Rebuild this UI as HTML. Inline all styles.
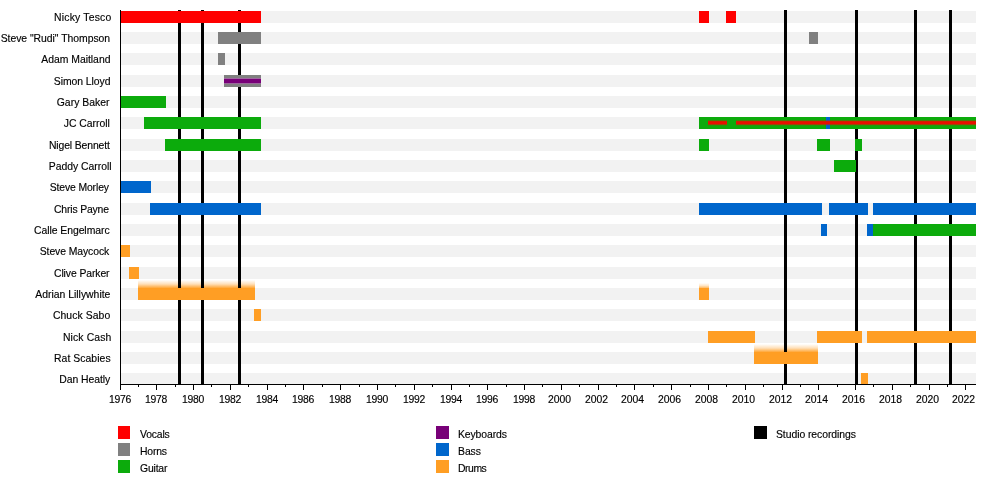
<!DOCTYPE html>
<html><head><meta charset="utf-8"><title>Timeline</title>
<style>
html,body{margin:0;padding:0;background:#fff}
#c{position:relative;width:1000px;height:484px;overflow:hidden;background:#fff;font-family:"Liberation Sans",sans-serif;font-size:10.4px;color:#000;line-height:12px}
#c div{position:absolute}
.bd{left:121px;width:855px;height:12px;background:#f2f2f2}
.b{height:12px}
.s{height:4px}
.ln{top:10px;width:3px;height:374px;background:#000}
.lb,.tl,.lt{will-change:transform;-webkit-text-stroke:0.15px #000}
.lb{left:0;width:111px;text-align:right;white-space:nowrap;height:12px}
.tk{top:384px;width:1px;background:#000}
.tl{top:393.5px;white-space:nowrap;height:12px}
.lg{width:13px;height:13px}
.lt{white-space:nowrap;height:12px}
</style></head><body><div id="c">

<div class="bd" style="top:11px;height:12px"></div>
<div class="bd" style="top:32px;height:12px"></div>
<div class="bd" style="top:53px;height:12px"></div>
<div class="bd" style="top:75px;height:12px"></div>
<div class="bd" style="top:96px;height:12px"></div>
<div class="bd" style="top:117px;height:12px"></div>
<div class="bd" style="top:139px;height:12px"></div>
<div class="bd" style="top:160px;height:12px"></div>
<div class="bd" style="top:181px;height:12px"></div>
<div class="bd" style="top:203px;height:12px"></div>
<div class="bd" style="top:224px;height:12px"></div>
<div class="bd" style="top:245px;height:12px"></div>
<div class="bd" style="top:267px;height:12px"></div>
<div class="bd" style="top:288px;height:12px"></div>
<div class="bd" style="top:309px;height:12px"></div>
<div class="bd" style="top:331px;height:12px"></div>
<div class="bd" style="top:352px;height:12px"></div>
<div class="bd" style="top:373px;height:11px"></div>
<div style="left:138px;width:117px;top:280px;height:8px;background:linear-gradient(to bottom,rgba(255,158,36,0) 0%,rgba(255,158,36,0.315) 50%,rgba(255,158,36,0.9) 100%)"></div>
<div style="left:754px;width:64px;top:344px;height:8px;background:linear-gradient(to bottom,rgba(255,158,36,0) 0%,rgba(255,158,36,0.315) 50%,rgba(255,158,36,0.9) 100%)"></div>
<div style="left:699px;width:10px;top:283px;height:5px;background:linear-gradient(to bottom,rgba(255,158,36,0) 0%,rgba(255,158,36,0.24499999999999997) 50%,rgba(255,158,36,0.7) 100%)"></div>
<div class="ln" style="left:178px"></div>
<div class="ln" style="left:201px"></div>
<div class="ln" style="left:238px"></div>
<div class="ln" style="left:784px"></div>
<div class="ln" style="left:855px"></div>
<div class="ln" style="left:914px"></div>
<div class="ln" style="left:949px"></div>
<div class="b" style="top:11px;left:120.5px;width:140.5px;height:12px;background:#ff0000"></div>
<div class="b" style="top:11px;left:699px;width:10px;height:12px;background:#ff0000"></div>
<div class="b" style="top:11px;left:726px;width:10px;height:12px;background:#ff0000"></div>
<div class="b" style="top:32px;left:218px;width:43px;height:12px;background:#808080"></div>
<div class="b" style="top:32px;left:809px;width:9px;height:12px;background:#808080"></div>
<div class="b" style="top:53px;left:218px;width:7px;height:12px;background:#808080"></div>
<div class="b" style="top:75px;left:224px;width:37px;height:12px;background:#808080"></div>
<div style="top:78px;height:6px;left:224px;width:37px;background:linear-gradient(to bottom,rgba(160,105,160,1) 0px,rgba(160,105,160,1) 1px,rgba(120,0,120,1) 1px,rgba(120,0,120,1) 2px,rgba(120,0,120,1) 2px,rgba(120,0,120,1) 3px,rgba(120,0,120,1) 3px,rgba(120,0,120,1) 4px,rgba(120,0,120,1) 4px,rgba(120,0,120,1) 5px,rgba(155,105,155,1) 5px,rgba(155,105,155,1) 6px)"></div>
<div class="b" style="top:96px;left:120.5px;width:45.5px;height:12px;background:#0cab0c"></div>
<div class="b" style="top:117px;left:144px;width:117px;height:12px;background:#0cab0c"></div>
<div class="b" style="top:117px;left:699px;width:277px;height:12px;background:#0cab0c"></div>
<div class="b" style="top:117px;left:826px;width:4px;height:12px;background:#0066cc"></div>
<div style="top:120px;height:6px;left:708px;width:18.5px;background:linear-gradient(to bottom,rgba(232,16,0,0.3) 0px,rgba(232,16,0,0.3) 1px,rgba(232,16,0,0.9) 1px,rgba(232,16,0,0.9) 2px,rgba(232,16,0,1) 2px,rgba(232,16,0,1) 3px,rgba(232,16,0,1) 3px,rgba(232,16,0,1) 4px,rgba(232,16,0,0.65) 4px,rgba(232,16,0,0.65) 5px,rgba(232,16,0,0.12) 5px,rgba(232,16,0,0.12) 6px)"></div>
<div style="top:120px;height:6px;left:735.5px;width:240.5px;background:linear-gradient(to bottom,rgba(232,16,0,0.3) 0px,rgba(232,16,0,0.3) 1px,rgba(232,16,0,0.9) 1px,rgba(232,16,0,0.9) 2px,rgba(232,16,0,1) 2px,rgba(232,16,0,1) 3px,rgba(232,16,0,1) 3px,rgba(232,16,0,1) 4px,rgba(232,16,0,0.65) 4px,rgba(232,16,0,0.65) 5px,rgba(232,16,0,0.12) 5px,rgba(232,16,0,0.12) 6px)"></div>
<div class="b" style="top:139px;left:165px;width:96px;height:12px;background:#0cab0c"></div>
<div class="b" style="top:139px;left:699px;width:10px;height:12px;background:#0cab0c"></div>
<div class="b" style="top:139px;left:817px;width:13px;height:12px;background:#0cab0c"></div>
<div class="b" style="top:139px;left:855px;width:7px;height:12px;background:#0cab0c"></div>
<div class="b" style="top:160px;left:834px;width:22px;height:12px;background:#0cab0c"></div>
<div class="b" style="top:181px;left:120.5px;width:30.5px;height:12px;background:#0066cc"></div>
<div class="b" style="top:203px;left:150px;width:111px;height:12px;background:#0066cc"></div>
<div class="b" style="top:203px;left:699px;width:123px;height:12px;background:#0066cc"></div>
<div class="b" style="top:203px;left:829.3px;width:38.7px;height:12px;background:#0066cc"></div>
<div class="b" style="top:203px;left:873px;width:103px;height:12px;background:#0066cc"></div>
<div class="b" style="top:224px;left:821px;width:6.3px;height:12px;background:#0066cc"></div>
<div class="b" style="top:224px;left:867px;width:6px;height:12px;background:#0066cc"></div>
<div class="b" style="top:224px;left:873px;width:103px;height:12px;background:#0cab0c"></div>
<div class="b" style="top:245px;left:120.5px;width:9.5px;height:12px;background:#ff9e24"></div>
<div class="b" style="top:267px;left:129px;width:10px;height:12px;background:#ff9e24"></div>
<div class="b" style="top:288px;left:138px;width:117px;height:12px;background:#ff9e24"></div>
<div class="b" style="top:288px;left:699px;width:10px;height:12px;background:#ff9e24"></div>
<div class="b" style="top:309px;left:254px;width:7px;height:12px;background:#ff9e24"></div>
<div class="b" style="top:331px;left:708px;width:46.7px;height:12px;background:#ff9e24"></div>
<div class="b" style="top:331px;left:817.3px;width:44.7px;height:12px;background:#ff9e24"></div>
<div class="b" style="top:331px;left:867px;width:109px;height:12px;background:#ff9e24"></div>
<div class="b" style="top:352px;left:754px;width:64px;height:12px;background:#ff9e24"></div>
<div class="b" style="top:373px;left:861px;width:7px;height:11px;background:#ff9e24"></div>
<div style="left:120px;top:10px;width:1px;height:374px;background:#000"></div>
<div style="left:120px;top:383.5px;width:856px;height:1px;background:#000"></div>
<div class="tk" style="left:120px;height:6px"></div>
<div class="tl" style="left:108.50px;letter-spacing:-0.25px">1976</div>
<div class="tk" style="left:138px;height:3px"></div>
<div class="tk" style="left:156px;height:6px"></div>
<div class="tl" style="left:144.50px;letter-spacing:-0.25px">1978</div>
<div class="tk" style="left:175px;height:3px"></div>
<div class="tk" style="left:193px;height:6px"></div>
<div class="tl" style="left:181.50px;letter-spacing:-0.25px">1980</div>
<div class="tk" style="left:211px;height:3px"></div>
<div class="tk" style="left:230px;height:6px"></div>
<div class="tl" style="left:218.50px;letter-spacing:-0.25px">1982</div>
<div class="tk" style="left:248px;height:3px"></div>
<div class="tk" style="left:267px;height:6px"></div>
<div class="tl" style="left:255.50px;letter-spacing:-0.25px">1984</div>
<div class="tk" style="left:285px;height:3px"></div>
<div class="tk" style="left:303px;height:6px"></div>
<div class="tl" style="left:291.50px;letter-spacing:-0.25px">1986</div>
<div class="tk" style="left:322px;height:3px"></div>
<div class="tk" style="left:340px;height:6px"></div>
<div class="tl" style="left:328.50px;letter-spacing:-0.25px">1988</div>
<div class="tk" style="left:359px;height:3px"></div>
<div class="tk" style="left:377px;height:6px"></div>
<div class="tl" style="left:365.50px;letter-spacing:-0.25px">1990</div>
<div class="tk" style="left:395px;height:3px"></div>
<div class="tk" style="left:414px;height:6px"></div>
<div class="tl" style="left:402.50px;letter-spacing:-0.25px">1992</div>
<div class="tk" style="left:432px;height:3px"></div>
<div class="tk" style="left:451px;height:6px"></div>
<div class="tl" style="left:439.50px;letter-spacing:-0.25px">1994</div>
<div class="tk" style="left:469px;height:3px"></div>
<div class="tk" style="left:487px;height:6px"></div>
<div class="tl" style="left:475.50px;letter-spacing:-0.25px">1996</div>
<div class="tk" style="left:506px;height:3px"></div>
<div class="tk" style="left:524px;height:6px"></div>
<div class="tl" style="left:512.50px;letter-spacing:-0.25px">1998</div>
<div class="tk" style="left:542px;height:3px"></div>
<div class="tk" style="left:561px;height:6px"></div>
<div class="tl" style="left:548.00px;letter-spacing:0">2000</div>
<div class="tk" style="left:579px;height:3px"></div>
<div class="tk" style="left:598px;height:6px"></div>
<div class="tl" style="left:585.00px;letter-spacing:0">2002</div>
<div class="tk" style="left:616px;height:3px"></div>
<div class="tk" style="left:634px;height:6px"></div>
<div class="tl" style="left:621.00px;letter-spacing:0">2004</div>
<div class="tk" style="left:653px;height:3px"></div>
<div class="tk" style="left:671px;height:6px"></div>
<div class="tl" style="left:658.00px;letter-spacing:0">2006</div>
<div class="tk" style="left:690px;height:3px"></div>
<div class="tk" style="left:708px;height:6px"></div>
<div class="tl" style="left:695.00px;letter-spacing:0">2008</div>
<div class="tk" style="left:726px;height:3px"></div>
<div class="tk" style="left:745px;height:6px"></div>
<div class="tl" style="left:732.00px;letter-spacing:0">2010</div>
<div class="tk" style="left:763px;height:3px"></div>
<div class="tk" style="left:782px;height:6px"></div>
<div class="tl" style="left:769.00px;letter-spacing:0">2012</div>
<div class="tk" style="left:800px;height:3px"></div>
<div class="tk" style="left:818px;height:6px"></div>
<div class="tl" style="left:805.00px;letter-spacing:0">2014</div>
<div class="tk" style="left:837px;height:3px"></div>
<div class="tk" style="left:855px;height:6px"></div>
<div class="tl" style="left:842.00px;letter-spacing:0">2016</div>
<div class="tk" style="left:873px;height:3px"></div>
<div class="tk" style="left:892px;height:6px"></div>
<div class="tl" style="left:879.00px;letter-spacing:0">2018</div>
<div class="tk" style="left:910px;height:3px"></div>
<div class="tk" style="left:929px;height:6px"></div>
<div class="tl" style="left:916.00px;letter-spacing:0">2020</div>
<div class="tk" style="left:947px;height:3px"></div>
<div class="tk" style="left:965px;height:6px"></div>
<div class="tl" style="left:952.00px;letter-spacing:0">2022</div>
<div class="lb" style="top:11.5px;width:111.43px;letter-spacing:0.190px">Nicky Tesco</div>
<div class="lb" style="top:32.5px;width:110.09px;letter-spacing:-0.026px">Steve &quot;Rudi&quot; Thompson</div>
<div class="lb" style="top:53.5px;width:110.42px;letter-spacing:-0.018px">Adam Maitland</div>
<div class="lb" style="top:75.5px;width:110.39px;letter-spacing:-0.053px">Simon Lloyd</div>
<div class="lb" style="top:96.5px;width:109.60px;letter-spacing:0.032px">Gary Baker</div>
<div class="lb" style="top:117.5px;width:109.76px;letter-spacing:-0.024px">JC Carroll</div>
<div class="lb" style="top:139.5px;width:109.72px;letter-spacing:-0.125px">Nigel Bennett</div>
<div class="lb" style="top:160.5px;width:111.54px;letter-spacing:-0.020px">Paddy Carroll</div>
<div class="lb" style="top:181.5px;width:108.87px;letter-spacing:-0.128px">Steve Morley</div>
<div class="lb" style="top:203.5px;width:108.85px;letter-spacing:-0.156px">Chris Payne</div>
<div class="lb" style="top:224.5px;width:109.56px;letter-spacing:-0.045px">Calle Engelmarc</div>
<div class="lb" style="top:245.5px;width:109.11px;letter-spacing:-0.084px">Steve Maycock</div>
<div class="lb" style="top:267.5px;width:109.48px;letter-spacing:-0.091px">Clive Parker</div>
<div class="lb" style="top:288.5px;width:110.36px;letter-spacing:-0.004px">Adrian Lillywhite</div>
<div class="lb" style="top:309.5px;width:110.31px;letter-spacing:0.074px">Chuck Sabo</div>
<div class="lb" style="top:331.5px;width:111.43px;letter-spacing:0.124px">Nick Cash</div>
<div class="lb" style="top:352.5px;width:110.66px;letter-spacing:0.054px">Rat Scabies</div>
<div class="lb" style="top:373.5px;width:110.21px;letter-spacing:-0.038px">Dan Heatly</div>
<div class="lg" style="left:118px;top:426px;width:12px;background:#ff0000"></div>
<div class="lt" style="left:140.3px;top:428.5px;letter-spacing:-0.17px">Vocals</div>
<div class="lg" style="left:118px;top:443px;width:12px;background:#808080"></div>
<div class="lt" style="left:140.3px;top:445.5px;letter-spacing:-0.2px">Horns</div>
<div class="lg" style="left:118px;top:460px;width:12px;background:#0cab0c"></div>
<div class="lt" style="left:140.3px;top:462.5px;letter-spacing:-0.18px">Guitar</div>
<div class="lg" style="left:436px;top:426px;width:13px;background:#780078"></div>
<div class="lt" style="left:458.3px;top:428.5px;letter-spacing:-0.1px">Keyboards</div>
<div class="lg" style="left:436px;top:443px;width:13px;background:#0066cc"></div>
<div class="lt" style="left:458.3px;top:445.5px;letter-spacing:-0.05px">Bass</div>
<div class="lg" style="left:436px;top:460px;width:13px;background:#ff9e24"></div>
<div class="lt" style="left:458.3px;top:462.5px;letter-spacing:-0.45px">Drums</div>
<div class="lg" style="left:754px;top:426px;width:13px;background:#000"></div>
<div class="lt" style="left:776.3px;top:428.5px;letter-spacing:-0.06px">Studio recordings</div>
</div></body></html>
